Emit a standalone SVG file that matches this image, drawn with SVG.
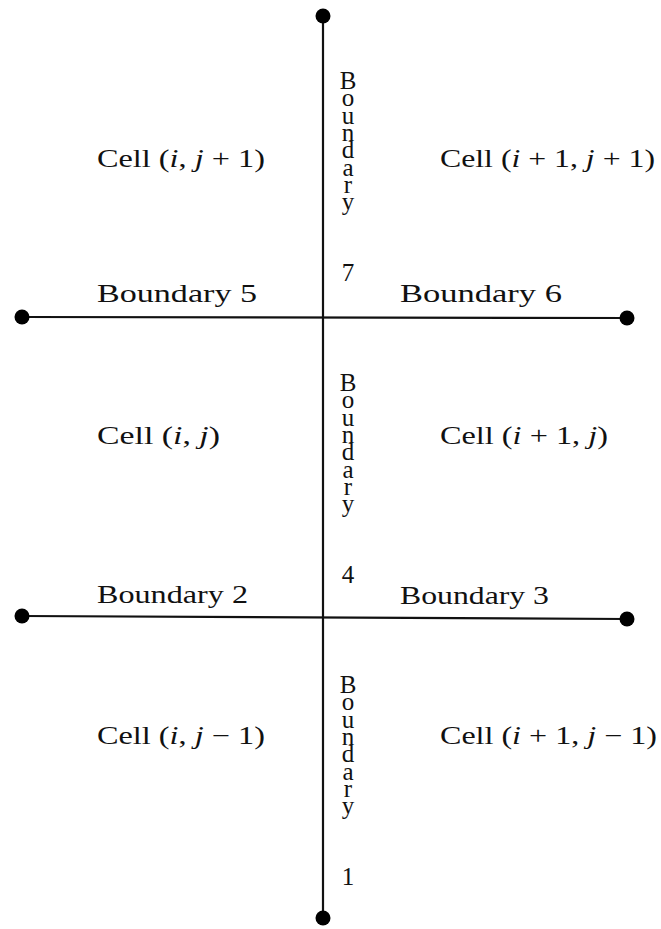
<svg xmlns="http://www.w3.org/2000/svg" width="661" height="929" viewBox="0 0 661 929">
<style>
text{font-family:"Liberation Serif","DejaVu Serif",serif;font-size:25px;fill:#111}
.v{text-anchor:middle}
.vert{writing-mode:vertical-rl;text-orientation:upright;letter-spacing:-9.7px}
.i{font-style:italic}
line{stroke:#111;stroke-width:2.2}
circle{fill:#000}
</style>
<rect width="661" height="929" fill="#fff"/>
<g id="connectors">
<line x1="323" y1="16" x2="323" y2="918"/>
<line x1="22" y1="317" x2="627" y2="318"/>
<line x1="22" y1="616" x2="627" y2="619"/>
</g>
<g id="dots">
<circle cx="323" cy="16" r="7.5"/>
<circle cx="323" cy="918" r="7.5"/>
<circle cx="22" cy="317" r="7.5"/>
<circle cx="627" cy="318" r="7.5"/>
<circle cx="22" cy="616" r="7.5"/>
<circle cx="627" cy="619" r="7.5"/>
</g>
<g id="cell-i-j1"><text x="97" y="167" textLength="168" lengthAdjust="spacingAndGlyphs">Cell (<tspan class="i">i</tspan>, <tspan class="i">j</tspan> + 1)</text></g>
<g id="cell-i1-j1"><text x="440" y="167" textLength="215" lengthAdjust="spacingAndGlyphs">Cell (<tspan class="i">i</tspan> + 1, <tspan class="i">j</tspan> + 1)</text></g>
<g id="cell-i-j"><text x="97" y="444" textLength="123" lengthAdjust="spacingAndGlyphs">Cell (<tspan class="i">i</tspan>, <tspan class="i">j</tspan>)</text></g>
<g id="cell-i1-j"><text x="440" y="444" textLength="168" lengthAdjust="spacingAndGlyphs">Cell (<tspan class="i">i</tspan> + 1, <tspan class="i">j</tspan>)</text></g>
<g id="cell-i-jm1"><text x="97" y="744" textLength="168" lengthAdjust="spacingAndGlyphs">Cell (<tspan class="i">i</tspan>, <tspan class="i">j</tspan> − 1)</text></g>
<g id="cell-i1-jm1"><text x="440" y="744" textLength="217" lengthAdjust="spacingAndGlyphs">Cell (<tspan class="i">i</tspan> + 1, <tspan class="i">j</tspan> − 1)</text></g>
<g id="boundary5"><text x="97" y="302" textLength="160" lengthAdjust="spacingAndGlyphs">Boundary 5</text></g>
<g id="boundary6"><text x="400" y="302" textLength="162" lengthAdjust="spacingAndGlyphs">Boundary 6</text></g>
<g id="boundary2"><text x="97" y="603" textLength="151" lengthAdjust="spacingAndGlyphs">Boundary 2</text></g>
<g id="boundary3"><text x="400" y="604" textLength="149" lengthAdjust="spacingAndGlyphs">Boundary 3</text></g>
<g id="boundary7"><text class="vert" x="348" y="67">Boundary</text><text class="v" x="348" y="281">7</text></g>
<g id="boundary4"><text class="vert" x="348" y="369">Boundary</text><text class="v" x="348" y="583">4</text></g>
<g id="boundary1"><text class="vert" x="348" y="671">Boundary</text><text class="v" x="348" y="885">1</text></g>
</svg>
